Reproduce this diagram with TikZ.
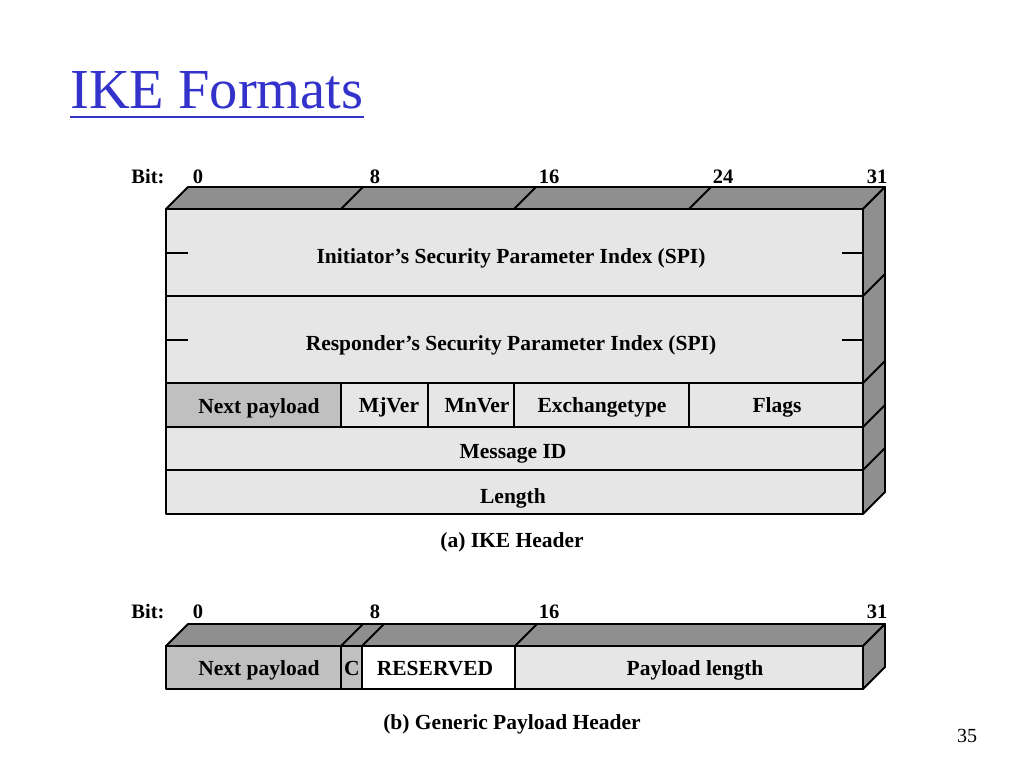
\documentclass[tikz,border=0pt]{standalone}
\usepackage{fontspec}
\setmainfont{Liberation Serif}
\definecolor{frontgray}{HTML}{E6E6E6}
\definecolor{darkgray3d}{HTML}{8F8F8F}
\definecolor{npgray}{HTML}{C0C0C0}
\definecolor{titleblue}{HTML}{3333CC}
\begin{document}
\begin{tikzpicture}[x=1pt,y=-1pt,
  edge/.style={line width=1.9pt, line join=round},
  face/.style={edge, fill=darkgray3d},
  fld/.style={edge, fill=frontgray},
  lbl/.style={font=\fontsize{21.5}{24}\selectfont\bfseries, anchor=base, inner sep=0pt},
  bitlbl/.style={font=\fontsize{20.5}{23}\selectfont\bfseries, anchor=base, inner sep=0pt},
  captext/.style={font=\fontsize{21.5}{24}\selectfont\bfseries, anchor=base, inner sep=0pt}]
\useasboundingbox (0,0) rectangle (1024,768);
\fill[white] (0,0) rectangle (1024,768);

% title
\node[anchor=base west, inner sep=0pt, text=titleblue, font=\fontsize{56.5}{60}\selectfont] (title) at (70,108) {IKE Formats};
\draw[titleblue, line width=2.4pt] (70,117) -- (364,117);

% ===== (a) IKE Header =====
\node[bitlbl] (bitA) at (148,183) {Bit:};
\node[bitlbl] (a0) at (198,183) {0};
\node[bitlbl] (a8) at (375,183) {8};
\node[bitlbl] (a16) at (549,183) {16};
\node[bitlbl] (a24) at (723,183) {24};
\node[bitlbl] (a31) at (877,183) {31};

\draw[face] (166,209) -- (188,187) -- (885,187) -- (863,209) -- cycle;
\draw[face] (863,209) -- (885,187) -- (885,492) -- (863,514) -- cycle;
\draw[edge] (341,209) -- (363,187);
\draw[edge] (514,209) -- (536,187);
\draw[edge] (689,209) -- (711,187);
\foreach \yy in {296,383,427,470} \draw[edge] (863,\yy) -- (885,\yy-22);

\draw[fld] (166,209) rectangle (863,296);
\draw[fld] (166,296) rectangle (863,383);
\draw[edge, fill=npgray] (166,383) rectangle (341,427);
\draw[fld] (341,383) rectangle (428,427);
\draw[fld] (428,383) rectangle (514,427);
\draw[fld] (514,383) rectangle (689,427);
\draw[fld] (689,383) rectangle (863,427);
\draw[fld] (166,427) rectangle (863,470);
\draw[fld] (166,470) rectangle (863,514);

\draw[edge] (166,253) -- (188,253);
\draw[edge] (842,253) -- (863,253);
\draw[edge] (166,340) -- (188,340);
\draw[edge] (842,340) -- (863,340);

\node[lbl] (ispi) at (511,263) {Initiator’s Security Parameter Index (SPI)};
\node[lbl] (rspi) at (511,350) {Responder’s Security Parameter Index (SPI)};
\node[lbl] (np) at (259,413) {Next payload};
\node[lbl] (mj) at (389,412) {MjVer};
\node[lbl] (mn) at (477,412) {MnVer};
\node[lbl] (ex) at (602,412) {Exchangetype};
\node[lbl] (fl) at (777,412) {Flags};
\node[lbl] (mid) at (513,458) {Message ID};
\node[lbl] (len) at (513,503) {Length};
\node[captext] (capA) at (512,547) {(a) IKE Header};

% ===== (b) Generic Payload Header =====
\node[bitlbl] (bitB) at (148,618) {Bit:};
\node[bitlbl] (b0) at (198,618) {0};
\node[bitlbl] (b8) at (375,618) {8};
\node[bitlbl] (b16) at (549,618) {16};
\node[bitlbl] (b31) at (877,618) {31};

\draw[face] (166,646) -- (188,624) -- (885,624) -- (863,646) -- cycle;
\draw[face] (863,646) -- (885,624) -- (885,667) -- (863,689) -- cycle;
\draw[edge] (341,646) -- (363,624);
\draw[edge] (362,646) -- (384,624);
\draw[edge] (515,646) -- (537,624);

\draw[edge, fill=npgray] (166,646) rectangle (341,689);
\draw[edge, fill=npgray] (341,646) rectangle (362,689);
\draw[edge, fill=white] (362,646) rectangle (515,689);
\draw[fld] (515,646) rectangle (863,689);

\node[lbl] (np2) at (259,675) {Next payload};
\node[lbl] (cc) at (352,675) {C};
\node[lbl] (res) at (435,675) {RESERVED};
\node[lbl] (pl) at (695,675) {Payload length};
\node[captext] (capB) at (512,729) {(b) Generic Payload Header};

\node[anchor=base, inner sep=0pt, font=\fontsize{20}{23}\selectfont] (pg) at (967,742) {35};
\end{tikzpicture}
\end{document}
